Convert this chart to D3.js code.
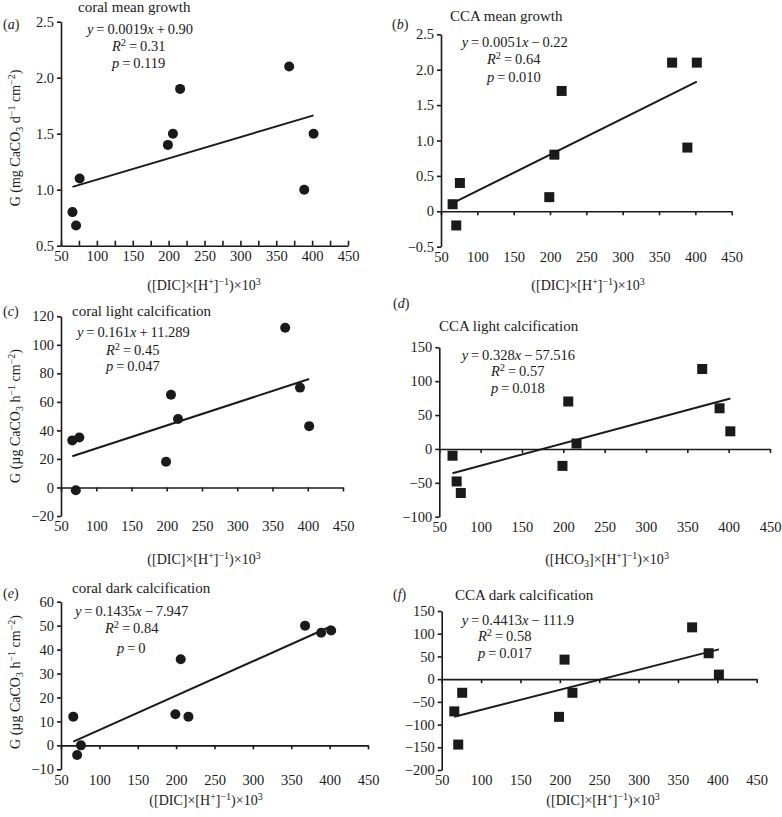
<!DOCTYPE html>
<html>
<head>
<meta charset="utf-8">
<script src="https://cdn.jsdelivr.net/npm/d3@7"></script>
<style>
  body { margin: 0; background: #fff; }
  svg { display: block; font-family: "Liberation Serif", "Times New Roman", serif; }
</style>
</head>
<body>
<svg id="chart" width="782" height="817"></svg>
<script>
// values
const xValues = [66, 71, 76, 199, 206, 216, 368, 389, 402]

const coralMeanGrowth = [0.8, 0.68, 1.1, 1.4, 1.5, 1.9, 2.1, 1.0, 1.5]
const ccaMeanGrowth = [0.1, -0.2, 0.4, 0.2, 0.8, 1.7, 2.1, 0.9, 2.1]
const coralLightCalc = [33, -2, 35, 18, 65, 48, 112, 70, 43]
const ccaLightCalc = [-10, -48, -65, -25, 70, 8, 118, 60, 26]
const coralDarkCalc = [12, -4, 0, 13, 36, 12, 50, 47, 48]
const ccaDarkCalc = [-71, -144, -30, -83, 43, -30, 114, 57, 10]

const seriesY = [coralMeanGrowth, ccaMeanGrowth, coralLightCalc, ccaLightCalc, coralDarkCalc, ccaDarkCalc]

const panelLetters = ['a', 'b', 'c', 'd', 'e', 'f']
const panelTitles = ['coral mean growth', 'CCA mean growth', 'coral light calcification',
                     'CCA light calcification', 'coral dark calcification', 'CCA dark calcification']
const markerShapes = ['circle', 'square', 'circle', 'square', 'circle', 'square']

const fitSlopes = [0.0019, 0.0051, 0.161, 0.328, 0.1435, 0.4413]
const fitIntercepts = [0.90, -0.22, 11.289, -57.516, -7.947, -111.9]
const equations = ['y=0.0019x+0.90', 'y=0.0051x−0.22', 'y=0.161x+11.289',
                   'y=0.328x−57.516', 'y=0.1435x−7.947', 'y=0.4413x−111.9']
const rSquared = ['0.31', '0.64', '0.45', '0.57', '0.84', '0.58']
const pValues = ['0.119', '0.010', '0.047', '0.018', '0', '0.017']

const yDomains = [[0.5, 2.5], [-0.5, 2.5], [-20, 120], [-100, 150], [-10, 60], [-200, 150]]
const yTickSteps = [0.5, 0.5, 20, 50, 10, 50]
const xDomain = [50, 450]
const xTickValues = [50, 100, 150, 200, 250, 300, 350, 400, 450]

// axis titles as [text, kind] pieces
const xTitleDIC = [['([DIC]×[H', ''], ['+', 'sup'], [']', ''], ['−1', 'sup'], [')×10', ''], ['3', 'sup']]
const xTitleHCO3 = [['([HCO', ''], ['3', 'sub'], [']×[H', ''], ['+', 'sup'], [']', ''], ['−1', 'sup'], [')×10', ''], ['3', 'sup']]
const xTitles = [xTitleDIC, xTitleDIC, xTitleDIC, xTitleHCO3, xTitleDIC, xTitleDIC]
const yTitleMg = [['G (mg CaCO', ''], ['3', 'sub'], [' d', ''], ['−1', 'sup'], [' cm', ''], ['−2', 'sup'], [')', '']]
const yTitleUg = [['G (µg CaCO', ''], ['3', 'sub'], [' h', ''], ['−1', 'sup'], [' cm', ''], ['−2', 'sup'], [')', '']]
const yTitles = [yTitleMg, null, yTitleUg, null, yTitleUg, null]

// where each panel sits on the page
const layout = [
    {left: 61, right: 348, top: 21.7, bottom: 245.7, letter: [3, 29], title: [78, 12],
     eq: [[87, 34], [112, 51], [112, 68]], xTitle: [204, 290], yTitle: [20, 138]},
    {left: 441, right: 731.7, top: 34.3, bottom: 246.7, letter: [392, 29], title: [450, 21],
     eq: [[461.7, 47], [487, 64], [487, 81.5]], xTitle: [588, 290]},
    {left: 61, right: 343, top: 316.3, bottom: 516, letter: [3, 316], title: [72, 315.5],
     eq: [[77, 337], [106, 354.5], [106, 371]], xTitle: [204, 564], yTitle: [20, 416]},
    {left: 439.3, right: 770, top: 347.3, bottom: 516.7, letter: [393, 307.5], title: [439, 331],
     eq: [[461.7, 359.5], [491, 376], [491, 393]], xTitle: [607, 564]},
    {left: 61, right: 368, top: 601.7, bottom: 769.3, letter: [3, 598], title: [72, 593],
     eq: [[75, 616], [105, 632.5], [117, 652.5]], xTitle: [206, 805], yTitle: [20, 682]},
    {left: 441.7, right: 756.7, top: 611, bottom: 770, letter: [393, 598.5], title: [455, 599.5],
     eq: [[461.7, 625], [478, 641], [478, 657.5]], xTitle: [603, 805]}
]

const ink = '#1a1a1a'
let svg = d3.select('#chart')

let richText = (parent, pieces, fontSize) => {
    let text = parent.append('text').attr('font-size', fontSize).attr('fill', ink)
    let shift = 0
    pieces.forEach(([s, kind]) => {
        let target = kind === 'sup' ? -5 : (kind === 'sub' ? 3 : 0)
        let span = text.append('tspan').attr('dy', target - shift).text(s)
        shift = target
        if (kind === 'sup' || kind === 'sub') span.attr('font-size', fontSize - 4)
        if (kind === 'i') span.attr('font-style', 'italic')
    })
    return text
}

let equationPieces = (eq) => {
    let pieces = []
    eq.split(/([xy=+−])/).filter(s => s !== '').forEach(s => {
        if (s === 'x' || s === 'y') pieces.push([s, 'i'])
        else if (s === '=' || s === '+' || s === '−') pieces.push(['\u2009' + s + '\u2009', ''])
        else pieces.push([s, ''])
    })
    return pieces
}

let styleAxis = (g) => {
    g.attr('font-family', null).attr('font-size', 14.5)
    g.selectAll('path, line').attr('stroke', ink).attr('stroke-width', 1.6)
    g.selectAll('text').attr('fill', ink)
}

let drawPanel = (i) => {
    let L = layout[i]
    let dom = yDomains[i]
    let step = yTickSteps[i]

    let x = d3.scaleLinear().domain(xDomain).range([L.left, L.right])
    let y = d3.scaleLinear().domain(dom).range([L.bottom, L.top])

    let yTicks = d3.range(dom[0], dom[1] + step / 2, step)
    let yFormat = step < 1
        ? (d) => Math.abs(d) < 1e-9 ? '0' : d3.format('.1f')(d)
        : d3.format('d')

    // y axis
    svg.append('g')
        .attr('transform', 'translate(' + L.left + ',0)')
        .call(d3.axisLeft(y).tickValues(yTicks).tickFormat(yFormat)
              .tickSize(4).tickSizeOuter(0).tickPadding(3))
        .call(styleAxis)

    // x axis line (at zero when the range crosses it)
    if (dom[0] >= 0) {
        svg.append('g')
            .attr('transform', 'translate(0,' + y(dom[0]) + ')')
            .call(d3.axisTop(x).tickValues(d3.range(50, 451, 25)).tickFormat('')
                  .tickSize(5).tickSizeOuter(0))
            .call(styleAxis)
    } else {
        svg.append('g')
            .attr('transform', 'translate(0,' + y(0) + ')')
            .call(d3.axisBottom(x).tickValues(xTickValues).tickFormat('')
                  .tickSize(4).tickSizeOuter(0))
            .call(styleAxis)
    }

    // x tick labels along the bottom
    svg.append('g')
        .attr('transform', 'translate(0,' + L.bottom + ')')
        .call(d3.axisBottom(x).tickValues(xTickValues).tickFormat(d3.format('d'))
              .tickSize(0).tickPadding(5))
        .call(styleAxis)
        .call(g => g.select('.domain').remove())

    // regression line
    let xMin = d3.min(xValues)
    let xMax = d3.max(xValues)
    svg.append('line')
        .attr('x1', x(xMin)).attr('y1', y(fitSlopes[i] * xMin + fitIntercepts[i]))
        .attr('x2', x(xMax)).attr('y2', y(fitSlopes[i] * xMax + fitIntercepts[i]))
        .attr('stroke', ink).attr('stroke-width', 2)

    // points
    let pts = xValues.map((xv, j) => ({x: xv, y: seriesY[i][j]}))
    if (markerShapes[i] === 'circle') {
        svg.append('g').selectAll('circle')
            .data(pts).enter().append('circle')
            .attr('cx', d => x(d.x)).attr('cy', d => y(d.y))
            .attr('r', 5).attr('fill', ink)
    } else {
        svg.append('g').selectAll('rect')
            .data(pts).enter().append('rect')
            .attr('x', d => x(d.x) - 5).attr('y', d => y(d.y) - 5)
            .attr('width', 10).attr('height', 10).attr('fill', ink)
    }

    // panel letter and title
    richText(svg, [['(', ''], [panelLetters[i], 'i'], [')', '']], 14)
        .attr('x', L.letter[0]).attr('y', L.letter[1])
    svg.append('text').text(panelTitles[i])
        .attr('x', L.title[0]).attr('y', L.title[1])
        .attr('font-size', 15).attr('fill', ink)

    // fit statistics
    richText(svg, equationPieces(equations[i]), 14.5)
        .attr('x', L.eq[0][0]).attr('y', L.eq[0][1])
    richText(svg, [['R', 'i'], ['2', 'sup'], ['\u2009=\u2009' + rSquared[i], '']], 14.5)
        .attr('x', L.eq[1][0]).attr('y', L.eq[1][1])
    richText(svg, [['p', 'i'], ['\u2009=\u2009' + pValues[i], '']], 14.5)
        .attr('x', L.eq[2][0]).attr('y', L.eq[2][1])

    // axis titles
    richText(svg, xTitles[i], 14)
        .attr('x', L.xTitle[0]).attr('y', L.xTitle[1])
        .attr('text-anchor', 'middle')
    if (yTitles[i]) {
        richText(svg.append('g')
                    .attr('transform', 'translate(' + L.yTitle[0] + ',' + L.yTitle[1] + ') rotate(-90)'),
                 yTitles[i], 14)
            .attr('x', 0).attr('y', 0)
            .attr('text-anchor', 'middle')
    }
}

panelLetters.forEach((_, i) => drawPanel(i))
</script>
</body>
</html>
